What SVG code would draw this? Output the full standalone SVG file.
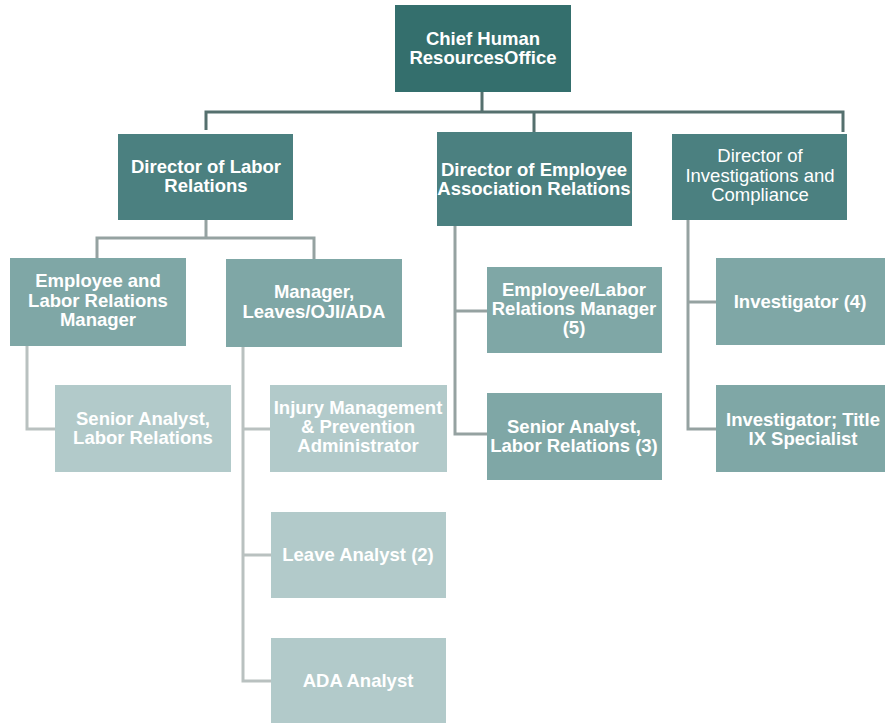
<svg xmlns="http://www.w3.org/2000/svg" width="885" height="723" viewBox="0 0 885 723">
<style>
text{font-family:"Liberation Sans",Arial,sans-serif;font-size:18.5px;font-weight:bold;fill:#fff;text-anchor:middle}
.n{font-weight:normal}
.c0{fill:#346f6d}
.c1{fill:#4b8080}
.c2{fill:#7fa7a6}
.c3{fill:#b2caca}
.l{fill:none;stroke-width:3}
.la{stroke:#55706e}
.lb{stroke:#95a2a1}
.lc{stroke:#b9c1c0}
</style>
<g id="connectors">
<path class="l la" d="M482 92V112M206 130V112H843V132M534 112V132"/>
<path class="l lb" d="M206 220V238M97 258V238H314V259"/>
<path class="l lc" d="M27 346V429H55"/>
<path class="l lc" d="M243 347V681H271M243 429H271M243 555H271"/>
<path class="l lb" d="M455 226V434H487M455 311H487"/>
<path class="l lb" d="M688 220V429H716M688 302H716"/>
</g>
<g id="chief"><rect class="c0" x="395" y="5" width="176" height="87"/><text x="483" y="45">Chief Human</text><text x="483" y="64">ResourcesOffice</text></g>
<g id="dlr"><rect class="c1" x="118" y="134" width="175" height="86"/><text x="206" y="173">Director of Labor</text><text x="206" y="192">Relations</text></g>
<g id="dear"><rect class="c1" x="437" y="132" width="195" height="94"/><text x="534" y="176">Director of Employee</text><text x="534" y="195">Association Relations</text></g>
<g id="dic"><rect class="c1" x="672" y="134" width="175" height="86"/><text class="n" x="760" y="162">Director of</text><text class="n" x="760" y="182">Investigations and</text><text class="n" x="760" y="201">Compliance</text></g>
<g id="elrm"><rect class="c2" x="10" y="258" width="176" height="88"/><text x="98" y="287">Employee and</text><text x="98" y="307">Labor Relations</text><text x="98" y="326">Manager</text></g>
<g id="mgrleaves"><rect class="c2" x="226" y="259" width="176" height="88"/><text x="314" y="298">Manager,</text><text x="314" y="318">Leaves/OJI/ADA</text></g>
<g id="salr"><rect class="c3" x="55" y="385" width="176" height="87"/><text x="143" y="425">Senior Analyst,</text><text x="143" y="444">Labor Relations</text></g>
<g id="injury"><rect class="c3" x="270" y="385" width="177" height="87"/><text x="358" y="414">Injury Management</text><text x="358" y="433">&amp; Prevention</text><text x="358" y="452">Administrator</text></g>
<g id="leave"><rect class="c3" x="271" y="512" width="175" height="86"/><text x="358" y="561">Leave Analyst (2)</text></g>
<g id="ada"><rect class="c3" x="271" y="638" width="175" height="86"/><text x="358" y="687">ADA Analyst</text></g>
<g id="elrm5"><rect class="c2" x="487" y="267" width="175" height="86"/><text x="574" y="296">Employee/Labor</text><text x="574" y="315">Relations Manager</text><text x="574" y="334">(5)</text></g>
<g id="sa3"><rect class="c2" x="487" y="393" width="175" height="87"/><text x="574" y="433">Senior Analyst,</text><text x="574" y="452">Labor Relations (3)</text></g>
<g id="inv4"><rect class="c2" x="716" y="258" width="169" height="87"/><text x="800" y="308">Investigator (4)</text></g>
<g id="inv9"><rect class="c2" x="716" y="385" width="169" height="87"/><text x="803" y="426">Investigator; Title</text><text x="803" y="445">IX Specialist</text></g>
</svg>
